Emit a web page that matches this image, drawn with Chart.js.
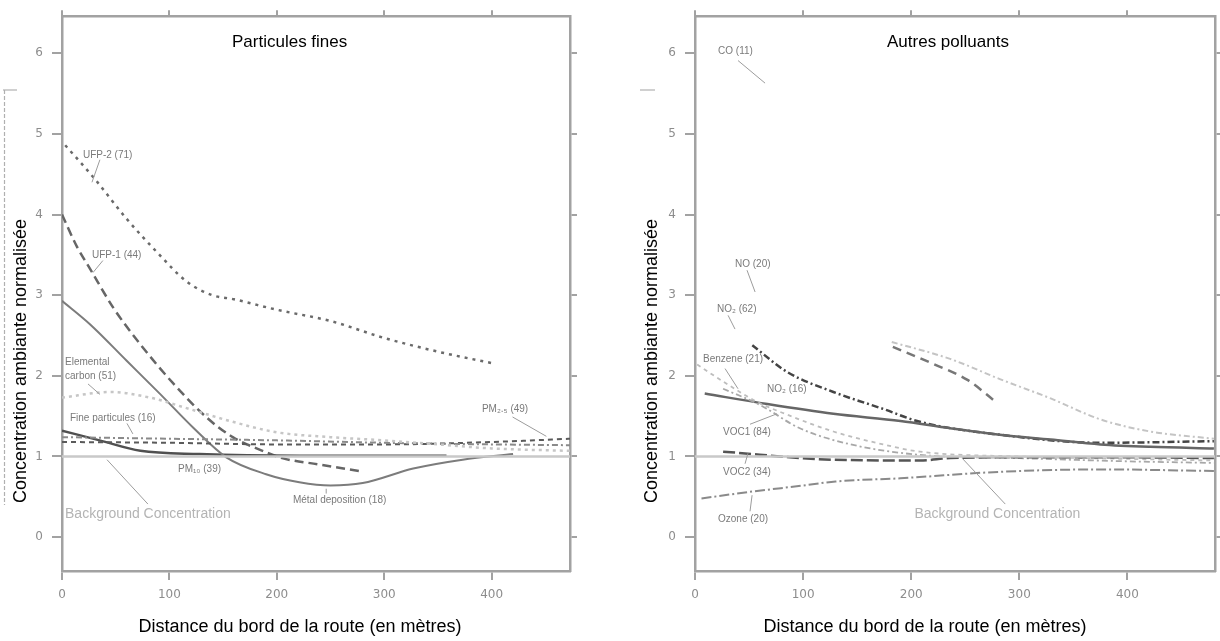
<!DOCTYPE html>
<html lang="fr">
<head>
  <meta charset="UTF-8">
  <title>Concentration ambiante près des routes</title>
  <script src="https://cdn.jsdelivr.net/npm/chart.js"></script>
  <style>
    html, body { margin: 0; padding: 0; background: #fff; }
    #wrap { position: relative; width: 1220px; height: 641px; }
    .panel { position: absolute; top: 0; width: 610px; height: 641px; }
  </style>
</head>
<body>
  <div id="wrap">
    <div class="panel" style="left:0"><canvas id="fines"></canvas></div>
    <div class="panel" style="left:610px"><canvas id="autres"></canvas></div>
  </div>

  <script>
    // Axes
    const xTicks = [0, 100, 200, 300, 400];
    const yTicks = [0, 1, 2, 3, 4, 5, 6];
    const yMin = -0.42, yMax = 6.46;
    const xMaxFines = 473, xMaxAutres = 481;

    // Particules fines (distance en m, concentration normalisée)
    const ufp2X = [3, 30, 60, 88, 116, 140, 160, 200, 250, 300, 350, 403];
    const ufp2Y = [4.86, 4.45, 3.95, 3.54, 3.17, 3.0, 2.95, 2.82, 2.68, 2.47, 2.3, 2.15];
    const ufp1X = [0, 14, 26, 48, 73, 104, 135, 159, 185, 205, 240, 277];
    const ufp1Y = [4.0, 3.6, 3.33, 2.84, 2.39, 1.9, 1.48, 1.24, 1.08, 0.98, 0.9, 0.82];
    const metalX = [0, 26, 60, 91, 122, 153, 190, 221, 250, 280, 327, 373, 420];
    const metalY = [2.93, 2.64, 2.19, 1.78, 1.36, 0.99, 0.78, 0.68, 0.64, 0.67, 0.85, 0.96, 1.03];
    const carbonX = [0, 45, 82, 116, 159, 200, 250, 300, 350, 400, 473];
    const carbonY = [1.73, 1.8, 1.73, 1.6, 1.43, 1.3, 1.24, 1.2, 1.15, 1.1, 1.07];
    const fineX = [0, 100, 200, 300, 400, 473];
    const fineY = [1.24, 1.22, 1.2, 1.17, 1.15, 1.14];
    const pm25X = [0, 100, 200, 300, 400, 473];
    const pm25Y = [1.18, 1.17, 1.15, 1.15, 1.18, 1.22];
    const pm10X = [0, 35, 73, 128, 221, 358];
    const pm10Y = [1.32, 1.2, 1.07, 1.03, 1.01, 1.01];
    const bgX = [0, 481];
    const bgY = [1, 1];

    // Autres polluants
    const noX = [53, 85, 128, 174, 208, 282, 375, 480];
    const noY = [2.38, 2.05, 1.8, 1.59, 1.43, 1.27, 1.17, 1.19];
    const no2X = [9, 67, 128, 190, 236, 282, 329, 375, 421, 480];
    const no2Y = [1.78, 1.65, 1.53, 1.44, 1.35, 1.27, 1.21, 1.15, 1.12, 1.1];
    const benzX = [2, 26, 57, 85, 128, 174, 208, 300, 400, 480];
    const benzY = [2.14, 1.93, 1.68, 1.52, 1.31, 1.15, 1.06, 1.0, 0.97, 0.95];
    const voc1X = [26, 60, 97, 144, 208, 300, 400, 480];
    const voc1Y = [1.84, 1.64, 1.35, 1.15, 1.02, 0.98, 0.94, 0.92];
    const voc2X = [26, 128, 208, 236, 300, 400, 480];
    const voc2Y = [1.06, 0.96, 0.95, 0.98, 0.99, 0.99, 0.98];
    const ozoneX = [6, 50, 100, 130, 190, 282, 375, 480];
    const ozoneY = [0.48, 0.56, 0.64, 0.69, 0.73, 0.81, 0.84, 0.82];
    const farDashX = [183, 220, 252, 278];
    const farDashY = [2.36, 2.15, 1.95, 1.68];
    const farLightX = [182, 236, 282, 329, 375, 421, 480];
    const farLightY = [2.42, 2.21, 1.96, 1.72, 1.46, 1.31, 1.22];

    // Étiquettes des courbes : [texte, x, y] en unités des données
    const finesLabels = [
      ["UFP-2 (71)", 19.5, 4.73], ["UFP-1 (44)", 27.9, 3.49],
      ["Elemental", 2.8, 2.17], ["carbon (51)", 2.8, 1.99],
      ["Fine particules (16)", 7.4, 1.47], ["PM\u2081\u2080 (39)", 108, 0.84],
      ["Métal deposition (18)", 215, 0.46], ["PM\u2082.\u2085 (49)", 391, 1.58]
    ];
    const finesLeaders = [
      [35.3, 4.68, 27.9, 4.4], [38.1, 3.43, 28.8, 3.28], [24.2, 1.9, 35.3, 1.77],
      [60.5, 1.41, 66, 1.28], [246, 0.6, 246, 0.54], [419.5, 1.49, 451, 1.25],
      [41.9, 0.96, 80, 0.41]
    ];
    const autresLabels = [
      ["CO (11)", 21.3, 6.02], ["NO (20)", 37, 3.38], ["NO\u2082 (62)", 20.4, 2.83],
      ["Benzene (21)", 7.4, 2.2], ["NO\u2082 (16)", 66.7, 1.84], ["VOC1 (84)", 25.9, 1.3],
      ["VOC2 (34)", 25.9, 0.81], ["Ozone (20)", 21.3, 0.22]
    ];
    const autresLeaders = [
      [39.8, 5.91, 64.8, 5.63], [48.1, 3.31, 55.6, 3.04], [30.6, 2.75, 37, 2.58],
      [27.8, 2.09, 39.8, 1.84], [50.9, 1.4, 75.9, 1.53], [46.3, 0.91, 49, 1.04],
      [50.9, 0.32, 52.8, 0.52], [247, 0.98, 287, 0.41]
    ];

    const frame = "#a2a2a2";

    function pts(xs, ys) {
      return xs.map((x, i) => ({ x: x, y: ys[i] }));
    }

    function line(label, xs, ys, color, width, dash) {
      return {
        label: label,
        data: pts(xs, ys),
        borderColor: color,
        borderWidth: width,
        borderDash: dash || [],
        pointRadius: 0,
        fill: false,
        cubicInterpolationMode: "monotone"
      };
    }

    // Textes, titres et traits de repère
    const notesPlugin = {
      id: "notes",
      afterDatasetsDraw(chart, args, opts) {
        const { ctx } = chart;
        const sx = chart.scales.x, sy = chart.scales.y;
        const px = v => sx.getPixelForValue(v);
        const py = v => sy.getPixelForValue(v);
        ctx.save();

        ctx.strokeStyle = "#9c9c9c";
        ctx.lineWidth = 1;
        opts.leaders.forEach(([x1, y1, x2, y2]) => {
          ctx.beginPath();
          ctx.moveTo(px(x1), py(y1));
          ctx.lineTo(px(x2), py(y2));
          ctx.stroke();
        });

        // traces de la marge de la figure d'origine
        ctx.strokeStyle = "#b0b0b0";
        ctx.lineWidth = 1.2;
        if (opts.edgeDash) {
          ctx.setLineDash([4, 2]);
          ctx.beginPath();
          ctx.moveTo(4.5, 90);
          ctx.lineTo(4.5, 505);
          ctx.stroke();
          ctx.setLineDash([]);
        }
        ctx.beginPath();
        ctx.moveTo(opts.edgeMark[0], 90);
        ctx.lineTo(opts.edgeMark[1], 90);
        ctx.stroke();

        ctx.textBaseline = "middle";
        ctx.textAlign = "left";
        ctx.fillStyle = "#7a7a7a";
        ctx.font = "10px 'Liberation Sans', Arial, sans-serif";
        opts.labels.forEach(([t, x, y]) => ctx.fillText(t, px(x), py(y)));

        ctx.fillStyle = "#b4b4b4";
        ctx.font = "14px 'Liberation Sans', Arial, sans-serif";
        ctx.fillText("Background Concentration", px(opts.bgLabel[0]), py(opts.bgLabel[1]));

        ctx.fillStyle = "#000";
        ctx.font = "17px 'Liberation Sans', Arial, sans-serif";
        ctx.fillText(opts.title, opts.titleX, 42);

        ctx.font = "18px 'Liberation Sans', Arial, sans-serif";
        ctx.textAlign = "center";
        ctx.fillText("Distance du bord de la route (en mètres)", opts.xTitleX, 627);
        ctx.save();
        ctx.translate(opts.yTitleX, 361);
        ctx.rotate(-Math.PI / 2);
        ctx.fillText("Concentration ambiante normalisée", 0, 0);
        ctx.restore();

        ctx.restore();
      }
    };

    function makeChart(id, datasets, xMax, leftW, rightW, padRight, tickLenRight, notes) {
      const tickFont = { family: "'DejaVu Sans', sans-serif", size: 12 };
      return new Chart(document.getElementById(id), {
        type: "line",
        data: { datasets: datasets },
        options: {
          responsive: true,
          maintainAspectRatio: false,
          animation: false,
          layout: { padding: { top: 7, right: padRight, left: 0, bottom: 0 } },
          plugins: {
            legend: { display: false },
            tooltip: { enabled: false },
            notes: notes
          },
          scales: {
            x: {
              type: "linear", position: "bottom", min: 0, max: xMax,
              afterBuildTicks: s => { s.ticks = xTicks.map(v => ({ value: v })); },
              afterFit: s => { s.height = 70; },
              ticks: { color: "#8d8d8d", font: tickFont, padding: 8 },
              grid: { drawOnChartArea: false, tickLength: 9, color: frame, lineWidth: 2 },
              border: { color: frame, width: 2.5 }
            },
            x2: {
              type: "linear", position: "top", min: 0, max: xMax,
              afterBuildTicks: s => { s.ticks = xTicks.map(v => ({ value: v })); },
              afterFit: s => { s.height = 7; },
              ticks: { display: false },
              grid: { drawOnChartArea: false, tickLength: 6, color: frame, lineWidth: 2 },
              border: { color: frame, width: 2.5 }
            },
            y: {
              type: "linear", position: "left", min: yMin, max: yMax,
              afterBuildTicks: s => { s.ticks = yTicks.map(v => ({ value: v })); },
              afterFit: s => { s.width = leftW; },
              ticks: { color: "#8d8d8d", font: tickFont, padding: 9 },
              grid: { drawOnChartArea: false, tickLength: 10, color: frame, lineWidth: 2 },
              border: { color: frame, width: 2.5 }
            },
            y2: {
              type: "linear", position: "right", min: yMin, max: yMax,
              afterBuildTicks: s => { s.ticks = yTicks.map(v => ({ value: v })); },
              afterFit: s => { s.width = rightW; },
              ticks: { display: false },
              grid: { drawOnChartArea: false, tickLength: tickLenRight, color: frame, lineWidth: 2 },
              border: { color: frame, width: 2.5 }
            }
          }
        },
        plugins: [notesPlugin]
      });
    }

    makeChart("fines", [
      line("Background Concentration", bgX, bgY, "#c9c9c9", 2.5),
      line("Elemental carbon (51)", carbonX, carbonY, "#c6c6c6", 2.5, [3, 4]),
      line("Fine particules (16)", fineX, fineY, "#8a8a8a", 2, [6, 3, 2, 3]),
      line("PM2.5 (49)", pm25X, pm25Y, "#5a5a5a", 2, [5, 4]),
      line("Métal deposition (18)", metalX, metalY, "#7c7c7c", 2),
      line("PM10 (39)", pm10X, pm10Y, "#505050", 2.5),
      line("UFP-1 (44)", ufp1X, ufp1Y, "#666", 2.5, [9, 5]),
      line("UFP-2 (71)", ufp2X, ufp2Y, "#6a6a6a", 2.5, [3, 5])
    ], xMaxFines, 62, 7, 33, 7, {
      labels: finesLabels, leaders: finesLeaders, bgLabel: [2.8, 0.28],
      title: "Particules fines", titleX: 232, xTitleX: 300, yTitleX: 21,
      edgeDash: true, edgeMark: [3, 17]
    });

    makeChart("autres", [
      line("Background Concentration", bgX, bgY, "#c9c9c9", 2.5),
      line("Ozone (20)", ozoneX, ozoneY, "#8a8a8a", 2, [10, 3, 2, 3]),
      line("VOC2 (34)", voc2X, voc2Y, "#555", 2.5, [12, 4]),
      line("VOC1 (84)", voc1X, voc1Y, "#a8a8a8", 1.8, [6, 3, 2, 3]),
      line("Benzene (21)", benzX, benzY, "#bdbdbd", 1.8, [4, 4]),
      line("NO2 (16)", no2X, no2Y, "#666", 2.5),
      line("NO (20)", noX, noY, "#444", 2.5, [7, 3, 2, 3]),
      line("", farLightX, farLightY, "#c4c4c4", 2, [6, 3, 2, 3]),
      line("", farDashX, farDashY, "#777", 2.5, [9, 6])
    ], xMaxAutres, 85, 5, 0, 5, {
      labels: autresLabels, leaders: autresLeaders, bgLabel: [203, 0.28],
      title: "Autres polluants", titleX: 277, xTitleX: 315, yTitleX: 42,
      edgeDash: false, edgeMark: [30, 45]
    });
  </script>
</body>
</html>
